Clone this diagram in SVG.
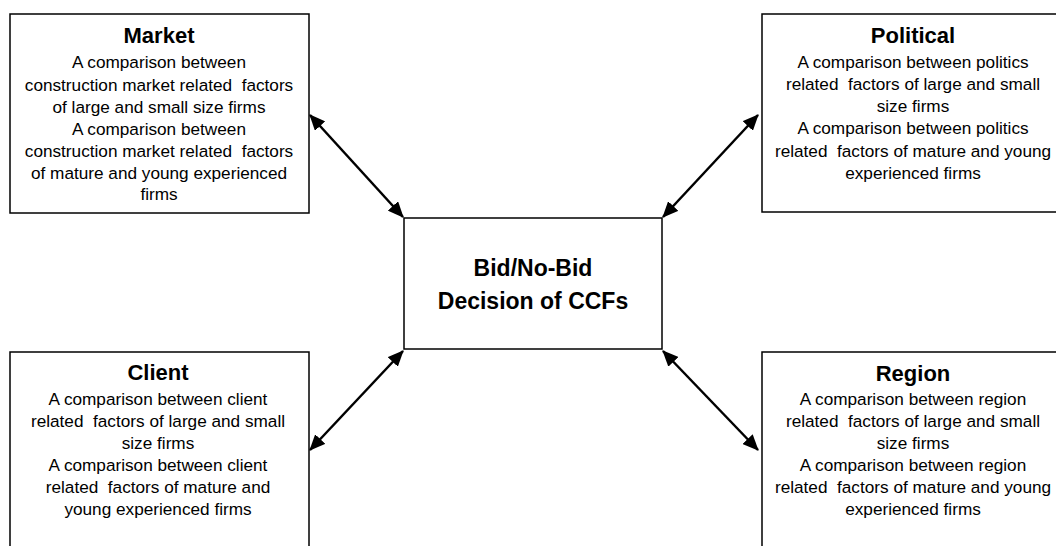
<svg xmlns="http://www.w3.org/2000/svg" width="1056" height="546" viewBox="0 0 1056 546">
<style>
.box{fill:#fff;stroke:#000;stroke-width:1.5}
.t{font-family:"Liberation Sans",Arial,sans-serif;font-size:22px;font-weight:bold;text-anchor:middle;fill:#000}
.b{font-family:"Liberation Sans",Arial,sans-serif;font-size:17.2px;text-anchor:middle;fill:#000;white-space:pre}
.c{font-family:"Liberation Sans",Arial,sans-serif;font-size:23px;font-weight:bold;text-anchor:middle;fill:#000}
.conn{stroke:#000;stroke-width:2.5;fill:none;marker-start:url(#ah);marker-end:url(#ah)}
</style>
<defs>
<marker id="ah" markerUnits="userSpaceOnUse" viewBox="0 0 16 14" refX="15" refY="7" markerWidth="16" markerHeight="14" orient="auto-start-reverse">
<path d="M0,0 L16,7 L0,14 Z" fill="#000"/>
</marker>
</defs>
<rect width="1056" height="546" fill="#fff"/>
<g id="center">
<rect class="box" x="404" y="218" width="258" height="131"/>
<text class="c" x="533" y="276">Bid/No-Bid</text>
<text class="c" x="533" y="309">Decision of CCFs</text>
</g>
<g id="market" xml:space="preserve">
<rect class="box" x="10" y="14" width="299" height="199"/>
<text class="t" x="159" y="43">Market</text>
<text class="b" x="159" y="68">A comparison between</text>
<text class="b" x="159" y="91">construction market related  factors</text>
<text class="b" x="159" y="113">of large and small size firms</text>
<text class="b" x="159" y="135">A comparison between</text>
<text class="b" x="159" y="157">construction market related  factors</text>
<text class="b" x="159" y="179">of mature and young experienced</text>
<text class="b" x="159" y="200">firms</text>
</g>
<g id="political" xml:space="preserve">
<rect class="box" x="762" y="14" width="302" height="198"/>
<text class="t" x="913" y="43">Political</text>
<text class="b" x="913" y="68">A comparison between politics</text>
<text class="b" x="913" y="90">related  factors of large and small</text>
<text class="b" x="913" y="112">size firms</text>
<text class="b" x="913" y="134">A comparison between politics</text>
<text class="b" x="913" y="157">related  factors of mature and young</text>
<text class="b" x="913" y="179">experienced firms</text>
</g>
<g id="client" xml:space="preserve">
<rect class="box" x="10" y="352" width="299" height="210"/>
<text class="t" x="158" y="380">Client</text>
<text class="b" x="158" y="405">A comparison between client</text>
<text class="b" x="158" y="427">related  factors of large and small</text>
<text class="b" x="158" y="449">size firms</text>
<text class="b" x="158" y="471">A comparison between client</text>
<text class="b" x="158" y="493">related  factors of mature and</text>
<text class="b" x="158" y="515">young experienced firms</text>
</g>
<g id="region" xml:space="preserve">
<rect class="box" x="762" y="352" width="302" height="210"/>
<text class="t" x="913" y="381">Region</text>
<text class="b" x="913" y="405">A comparison between region</text>
<text class="b" x="913" y="427">related  factors of large and small</text>
<text class="b" x="913" y="449">size firms</text>
<text class="b" x="913" y="471">A comparison between region</text>
<text class="b" x="913" y="493">related  factors of mature and young</text>
<text class="b" x="913" y="515">experienced firms</text>
</g>
<g id="connectors">
<line class="conn" x1="310" y1="115" x2="403" y2="217"/>
<line class="conn" x1="758" y1="115" x2="663" y2="217"/>
<line class="conn" x1="403" y1="351" x2="310" y2="450"/>
<line class="conn" x1="663" y1="351" x2="758" y2="450"/>
</g>
</svg>
